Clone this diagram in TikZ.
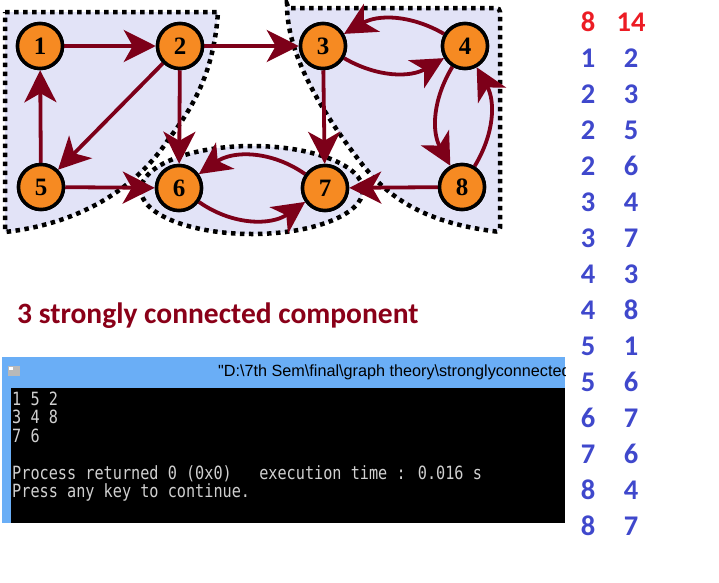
\documentclass[tikz,border=0pt]{standalone}
\usepackage{fontspec}
\usepackage{xcolor}
\usetikzlibrary{arrows.meta}
\newfontfamily\labelfont{Liberation Serif}
\newfontfamily\calfont{Carlito}
\newfontfamily\winfont{Liberation Sans}
\newfontfamily\consolefont{DejaVu Sans Mono}
\definecolor{SCCEdge}{HTML}{7D0019}
\definecolor{SCCNode}{HTML}{F68A22}
\definecolor{SCCRegion}{HTML}{E2E3F7}
\definecolor{SCCTitle}{HTML}{8A0018}
\definecolor{SCCRed}{HTML}{EC1C24}
\definecolor{SCCBlue}{HTML}{3F48CC}
\definecolor{SCCBar}{HTML}{6AAEF6}
\definecolor{SCCText}{HTML}{D0D0D0}

\begin{document}
\begin{tikzpicture}[x=1pt,y=-1pt,
  vertex/.style={circle,draw=black,line width=3.5pt,fill=SCCNode,minimum size=45pt,inner sep=0pt,
    font=\labelfont\bfseries\fontsize{25}{25}\selectfont},
  arc/.style={draw=SCCEdge,line width=3.8pt,-{Stealth[length=32pt,width=32pt,inset=9pt]}},
  region/.style={fill=SCCRegion,draw=black,line width=4.5pt,dash pattern=on 4.5pt off 4.5pt},
  numcol/.style={font=\calfont\bfseries\fontsize{28.5}{30}\selectfont,text=SCCBlue,inner sep=0pt},
  consoleline/.style={anchor=base west,inner sep=0pt,text=SCCText,yscale=1.2,
    font=\consolefont\fontsize{15.2}{18.5}\selectfont}]
\path[use as bounding box] (0,0) rectangle (719,582);
% components
\path[region] (5,12) -- (218,12) .. controls (214,70) and (195,105) .. (168,140)
  .. controls (145,175) and (95,222) .. (5,232) -- cycle;
\path[region,rounded corners=4pt] (287,8) -- (500,8) -- (500,232)
  .. controls (420,222) and (385,195) .. (355,155)
  .. controls (325,115) and (290,60) .. (287,8) -- cycle;
\path[region] (252,190) ellipse (111 and 44);
% vertices
\node[vertex] (n1) at (40,46) {1};
\node[vertex] (n2) at (180,46) {2};
\node[vertex] (n3) at (323,46) {3};
\node[vertex] (n4) at (465,46) {4};
\node[vertex] (n5) at (41,187) {5};
\node[vertex] (n6) at (179,188) {6};
\node[vertex] (n7) at (325,188) {7};
\node[vertex] (n8) at (462,187) {8};
% edges
\draw[arc] (n1) -- (n2);
\draw[arc] (n2) -- (n3);
\draw[arc] (n2) -- (n5);
\draw[arc] (n2) -- (n6);
\draw[arc] (n3) to[bend right=30] (n4);
\draw[arc] (n3) -- (n7);
\draw[arc] (n4) to[bend right=30] (n3);
\draw[arc] (n4) to[bend right=30] (n8);
\draw[arc] (n5) -- (n1);
\draw[arc] (n5) -- (n6);
\draw[arc] (n6) to[bend right=35] (n7);
\draw[arc] (n7) to[bend right=35] (n6);
\draw[arc] (n8) to[bend right=30] (n4);
\draw[arc] (n8) -- (n7);
\node[vertex] at (n1) {1};
\node[vertex] at (n2) {2};
\node[vertex] at (n3) {3};
\node[vertex] at (n4) {4};
\node[vertex] at (n5) {5};
\node[vertex] at (n6) {6};
\node[vertex] at (n7) {7};
\node[vertex] at (n8) {8};
% caption
\node[anchor=west,inner sep=0pt,text=SCCTitle,font=\calfont\bfseries\fontsize{29.5}{32}\selectfont]
  (caption) at (17,316) {3 strongly connected component};
% edge list
\node[numcol,text=SCCRed] (nv) at (588,22) {8};
\node[numcol,text=SCCRed] (ne) at (631,22) {14};
\foreach \a/\b [count=\r] in {1/2,2/3,2/5,2/6,3/4,3/7,4/3,4/8,5/1,5/6,6/7,7/6,8/4,8/7}{
  \node[numcol] (u\r) at (588,{22+36*\r}) {\a};
  \node[numcol] (v\r) at (631,{22+36*\r}) {\b};
}
% console window
\fill[SCCBar] (2,357) rectangle (565,523);
\fill[black] (11,388) rectangle (565,523);
\fill[gray!55] (8,366) rectangle (20,376);
\fill[white] (9,367) rectangle (13,370);
\begin{scope}
\clip (2,357) rectangle (565,388);
\node[anchor=west,inner sep=0pt,font=\winfont\fontsize{16.2}{17}\selectfont]
  (wintitle) at (218,372) {"D:\textbackslash 7th Sem\textbackslash final\textbackslash graph theory\textbackslash stronglyconnected};
\end{scope}
\node[consoleline] (out1) at (12,405) {1 5 2};
\node[consoleline] (out2) at (12,423.5) {3 4 8};
\node[consoleline] (out3) at (12,442) {7 6};
\node[consoleline] (out4) at (12,479) {Process returned 0 (0x0)~~~execution time : 0.016 s};
\node[consoleline] (out5) at (12,497.5) {Press any key to continue.};
\end{tikzpicture}
\end{document}
